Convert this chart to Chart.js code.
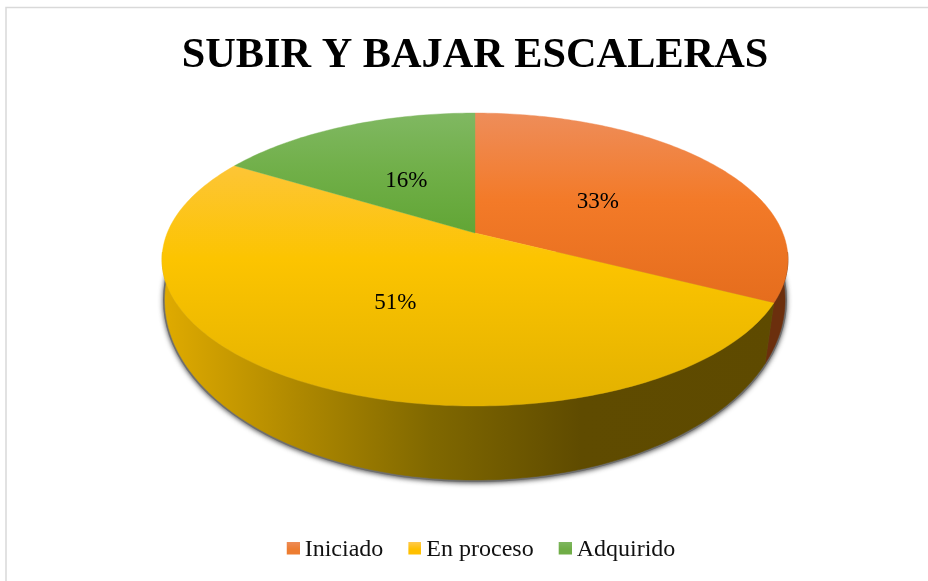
<!DOCTYPE html>
<html>
<head>
<meta charset="utf-8">
<style>html,body{margin:0;padding:0;background:#fff}canvas{display:block}</style>
<script src="https://cdn.jsdelivr.net/npm/chart.js@4"></script>
</head>
<body>
<canvas id="c" width="928" height="581"></canvas>
<script>
const categories = ["Iniciado", "En proceso", "Adquirido"];
const values = [32.5, 51.2, 16.3];
const percentLabels = ["33%", "51%", "16%"];
const titleText = "SUBIR Y BAJAR ESCALERAS";
const baseColors = ["#ED7D31", "#FFC000", "#70AD47"];

// surface shading, one list of [stop, colour] per slice
const topStops = [
  [[0, "#EE8D5A"], [0.3, "#F37A28"], [0.65, "#E56D1D"]],
  [[0, "#FFCB55"], [0.2, "#FDC533"], [0.5, "#FCC400"], [1, "#E2B100"]],
  [[0, "#80B862"], [0.2, "#70AF48"], [0.4, "#62A636"]]
];
const wallStops = [
  [[0, "#6B2F0D"], [1, "#6B2F0D"]],
  [[0, "#E0AB00"], [0.22, "#AE8800"], [0.43, "#806800"], [0.67, "#5F4B00"], [1, "#5E4A00"]],
  [[0, "#4A7030"], [1, "#4A7030"]]
];

// perspective view of the disc: the apex sits above the centre of the outline
const view = {
  cx: 475,
  top: { c: -0.181, k: 307.8, y0: 233, a: 141.7 },
  bottom: { c: -0.12, k: 307.8, y0: 278.4, a: 177.4 }
};
function project(angle, r, face) {
  const x = Math.cos(angle) * r, y = Math.sin(angle) * r, w = 1 + face.c * y;
  return [view.cx + face.k * x / w, face.y0 + face.a * y / w];
}
function gradient(ctx, x0, y0, x1, y1, stops) {
  const g = ctx.createLinearGradient(x0, y0, x1, y1);
  stops.forEach(s => g.addColorStop(s[0], s[1]));
  return g;
}
function rim(arc, face, reverse) {
  const n = Math.max(8, Math.ceil((arc.endAngle - arc.startAngle) * 60)), pts = [];
  for (let i = 0; i <= n; i++) {
    pts.push(project(arc.startAngle + (arc.endAngle - arc.startAngle) * i / n, 1, face));
  }
  return reverse ? pts.reverse() : pts;
}

const frameAndDisc = {
  id: "frameAndDisc",
  afterLayout(chart) {
    chart.titleBlock.left += 11; chart.titleBlock.right += 11;
    chart.legend.left += 19.5; chart.legend.right += 19.5;
  },
  beforeDraw(chart) {
    const ctx = chart.ctx;
    ctx.save();
    ctx.strokeStyle = "#D9D9D9";
    ctx.lineWidth = 1.5;
    ctx.strokeRect(6, 7.5, 1000, 1000);
    ctx.restore();
  },
  beforeDatasetDraw(chart, args) {
    const ctx = chart.ctx, arcs = args.meta.data;
    ctx.save();
    // everything behind the top face only shows in the lower part
    ctx.save();
    ctx.beginPath();
    ctx.rect(0, 252, 928, 329);
    ctx.clip();
    // soft shadow under the disc
    ctx.save();
    ctx.shadowColor = "rgba(60,60,60,0.9)";
    ctx.shadowBlur = 5;
    ctx.shadowOffsetY = 1;
    ctx.fillStyle = "#6E6E6E";
    ctx.beginPath();
    ctx.ellipse(475, 300, 312, 182, 0, 0, Math.PI * 2);
    ctx.fill();
    ctx.restore();
    // side walls
    arcs.forEach((arc, i) => {
      const path = rim(arc, view.top, false).concat(rim(arc, view.bottom, true));
      ctx.beginPath();
      path.forEach((p, j) => j ? ctx.lineTo(p[0], p[1]) : ctx.moveTo(p[0], p[1]));
      ctx.closePath();
      const g = gradient(ctx, 162, 0, 788, 0, wallStops[i]);
      ctx.fillStyle = g; ctx.strokeStyle = g; ctx.lineWidth = 0.6;
      ctx.fill(); ctx.stroke();
    });
    ctx.restore();
    // top faces
    arcs.forEach((arc, i) => {
      const apex = project(0, 0, view.top);
      ctx.beginPath();
      ctx.moveTo(apex[0], apex[1]);
      rim(arc, view.top, false).forEach(p => ctx.lineTo(p[0], p[1]));
      ctx.closePath();
      const g = gradient(ctx, 0, 113, 0, 406, topStops[i]);
      ctx.fillStyle = g; ctx.strokeStyle = g; ctx.lineWidth = 0.4;
      ctx.fill(); ctx.stroke();
    });
    // percentage labels
    ctx.fillStyle = "#000";
    ctx.font = '23px "Liberation Serif"';
    ctx.textAlign = "center";
    ctx.textBaseline = "middle";
    arcs.forEach((arc, i) => {
      const p = project((arc.startAngle + arc.endAngle) / 2, 0.49, view.top);
      ctx.fillText(percentLabels[i], p[0], p[1] + 4);
    });
    ctx.restore();
    return false;
  }
};

function legendSwatch(i) {
  const s = document.createElement("canvas");
  s.width = 15; s.height = 17;
  const c = s.getContext("2d");
  c.fillStyle = gradient(c, 0, 0, 0, 13, [[0, topStops[i][0][1]], [0.6, baseColors[i]], [1, baseColors[i]]]);
  c.fillRect(2, 0, 13, 13);
  return s;
}

new Chart(document.getElementById("c"), {
  type: "pie",
  data: {
    labels: categories,
    datasets: [{ data: values, backgroundColor: baseColors, borderWidth: 0 }]
  },
  plugins: [frameAndDisc],
  options: {
    responsive: false,
    animation: false,
    layout: { padding: { top: 0, bottom: 9 } },
    plugins: {
      tooltip: { enabled: false },
      title: {
        display: true,
        text: titleText,
        color: "#000",
        font: { family: '"Liberation Serif"', size: 42.3, weight: "bold" },
        padding: { top: 31, bottom: 20 }
      },
      legend: {
        position: "bottom",
        labels: {
          color: "#111",
          font: { family: '"Liberation Serif"', size: 24 },
          usePointStyle: true,
          boxWidth: 1,
          padding: 30,
          generateLabels: () => categories.map((t, i) => ({
            text: t,
            fontColor: "#111",
            pointStyle: legendSwatch(i),
            lineWidth: 0,
            index: i
          }))
        }
      }
    }
  }
});
</script>
</body>
</html>
